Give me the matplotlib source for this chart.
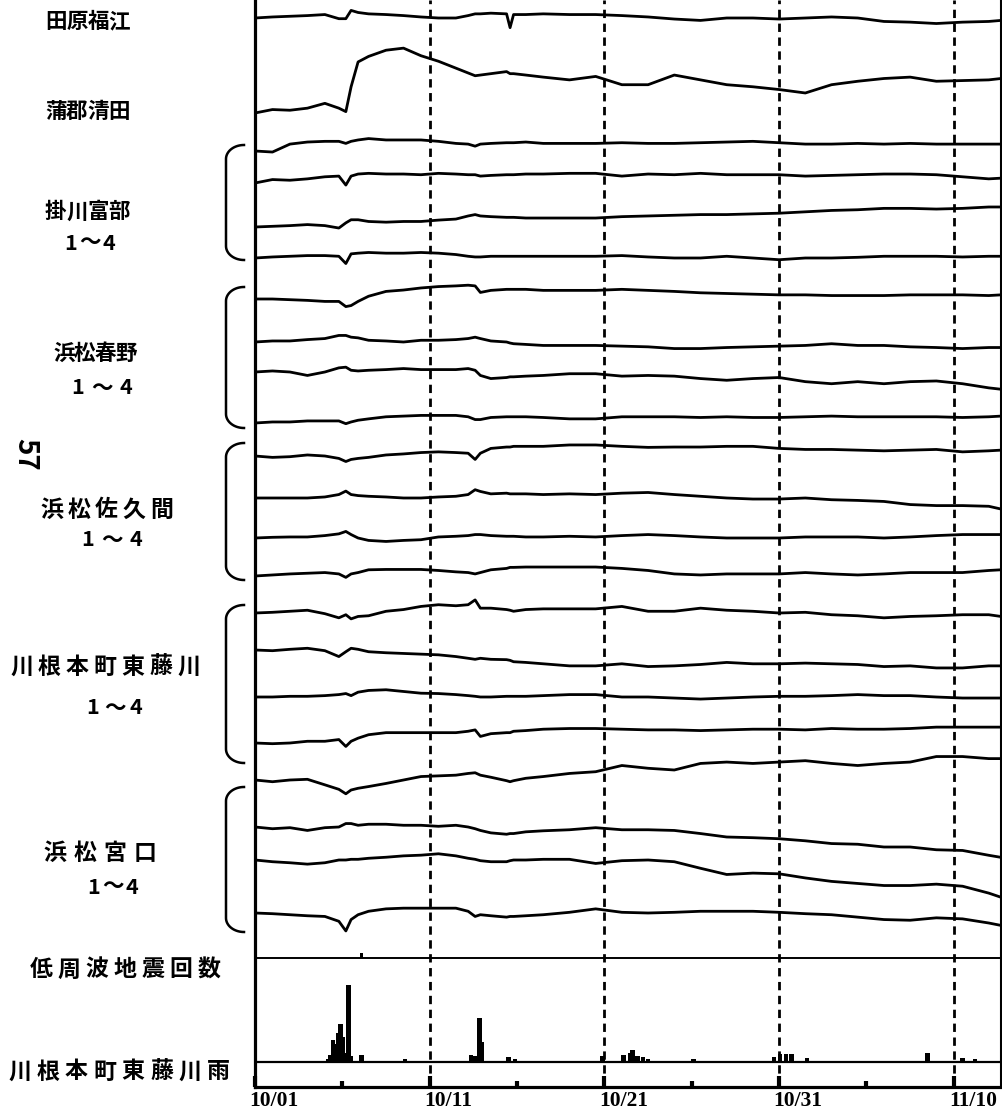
import numpy as np
import matplotlib
matplotlib.use('Agg')
import matplotlib.pyplot as plt
from matplotlib.transforms import ScaledTranslation

plt.rcParams['font.family'] = ['Noto Sans CJK JP', 'DejaVu Sans']

# sample days (0 = 10/01)
days = [0, 1, 2, 3, 4, 4.8, 5.2, 5.5, 5.9, 6.5, 7.5, 8.5, 9.5, 10.5, 11.5, 12.2, 12.6, 12.9, 13.5,
        14.4, 14.6, 14.8, 15.5, 16.5, 18, 19.5, 21, 22.5, 24, 25.5, 27, 28.5, 30, 31.5, 33, 34.5,
        36, 37.5, 39, 40.5, 42, 42.7]

# trace readings, relative change (arbitrary units, up = positive)
tahara = [0, 1.5, 2.5, 3.5, 5, -1, -1, 11, 8, 6, 5, 3.5, 1.5, 0, 0, 3.5, 6, 6, 7, 6, -14, 5, 5, 6, 5, 5,
          3.5, 1.5, -1.5, -3.5, 0, 0, -1.5, 0, 1.5, 0, -5, -6, -8, -6, -5, -3.5]
gamagori = [0, 5, 4, 7, 14, 7, 2, 38, 74, 82, 91, 94, 83, 75, 65, 58, 54, 55, 57, 60, 57, 57, 55, 52, 48,
            53, 41, 41, 55, 48, 41, 38, 34, 29, 41, 46, 50, 52, 46, 47, 48, 50]
kakegawa1 = [0, -1.5, 10, 13, 14, 14, 11, 14, 16, 18, 16, 16, 16, 14, 11, 10, 7, 10, 11, 12, 12, 12, 13, 11,
             11, 11, 12, 11, 11, 12, 13, 14, 12, 10, 10, 11, 10, 11, 10, 10, 10, 10]
kakegawa2 = [0, 5, 4, 6, 9, 10, -3, 10, 13, 14, 13, 13, 12, 14, 13, 12, 12, 10, 11, 12, 12, 12, 13, 13, 14,
             14, 10, 13, 12, 14, 12, 12, 12, 10, 11, 12, 13, 13, 12, 9, 6, 7]
kakegawa3 = [0, 1, 2, 3.5, 2, -1.5, 6, 10.5, 10.5, 8, 7, 8, 8, 10, 11.5, 16, 18, 16, 15, 14, 14, 14, 13, 13,
             13, 13, 15, 16, 17, 18, 18, 19, 20, 22, 24, 25, 27, 27, 26, 27, 29, 29]
kakegawa4 = [0, 1.5, 2.5, 3.5, 3.5, 2.5, -8, 6, 7, 8, 7, 7, 8, 7, 5, 2.5, 1.5, 1.5, 2.5, 2.5, 2.5, 2.5, 2.5,
             2.5, 2.5, 2.5, 3.5, 1.5, 0, 0, 2.5, 0, -2.5, 0, 0, 1, 2.5, 2.5, 2.5, 1.5, 2.5, 2.5]
haruno1 = [0, 0, -1, -2, -3.5, -3.5, -11, -9.5, -3.5, 4, 11, 13, 16, 18, 19, 20, 19, 9.5, 12.5, 14, 14, 14,
           14, 12.5, 12.5, 12.5, 14, 12.5, 11, 9, 8, 7, 6, 6, 5, 5, 5, 6, 6, 6, 5, 6]
haruno2 = [0, 1.5, 1.5, 3.5, 5, 9.5, 9.5, 7, 6, 2.5, 1.5, 0, 2.5, 2.5, 3.5, 5, 7, 5, 1.5, 0, -1.5, -2.5,
           -3.5, -5, -5, -5, -6, -7, -9.5, -9.5, -8, -7, -6, -5, -2.5, -5, -5, -7, -8, -9.5, -8, -8]
haruno3 = [0, 1.5, 0, -5, 0, 6, 7, 2.5, 1.5, 2.5, 3.5, 5, 3.5, 3.5, 3.5, 5, 2.5, -5, -9.5, -8, -7, -7, -6,
           -5, -2.5, -2.5, -6, -5, -6, -9.5, -12, -9.5, -8, -14, -17, -14, -17, -14, -13, -17, -23, -25]
haruno4 = [0, 1.5, 1.5, 3, 3, 3, -1, 1.5, 4, 6, 9, 10, 11, 11, 11, 9, 5, 5, 8, 9, 9, 9, 9, 8, 6, 6, 9, 9, 9,
           8, 9, 8, 8, 9, 10, 9, 9, 9, 9, 8, 9, 10]
sakuma1 = [0, -2, -1, 1.5, 0, -3.5, -8, -5, -3.5, -2, 1.5, 3, 5, 6, 5, 4, -5, 4, 11, 13, 13, 14, 14, 14, 16,
           16, 14, 12.5, 13, 13, 14, 14, 11, 9.5, 9.5, 8.5, 7.5, 8.5, 9.5, 6, 7.5, 8.5]
sakuma2 = [0, 0, 0, 0, 1.5, 5, 10, 5, 3.5, 2.5, 1.5, 0, 0, 1.5, 2.5, 5, 12, 9.5, 6, 7, 6, 6, 6, 5, 6, 5, 7,
           8, 5, 2.5, 0, -1.5, -1.5, 0, -2.5, -3.5, -5, -9.5, -11, -11, -12, -16]
sakuma3 = [0, 1, 1.5, 1.5, 3.5, 6, 9.5, 5, 0, -3.5, -5, -3.5, -2.5, 1.5, 2.5, 3.5, 5, 5, 3.5, 2.5, 2.5, 2.5,
           1.5, 1.5, 2.5, 1.5, 3.5, 5, 3.5, 1.5, 0, 0, 0, 1.5, 1.5, 1.5, 0, 1.5, 3.5, 5, 5, 5]
sakuma4 = [0, 1.5, 3, 4, 5, 3, -2, 3, 5, 9, 9.5, 9.5, 9.5, 8, 6, 5, 3, 5, 9, 11, 12.5, 12.5, 13, 13, 13, 13,
           11, 8, 3, 1.5, 3, 3, 3, 5, 3, 1.5, 3, 5, 5, 5, 8, 9]
kawane1 = [0, 1, 2.5, 4, -1, -7, -2.5, -8.5, -5, -4, 2.5, 5, 9.5, 12, 10.5, 12, 19, 7, 7, 5, 4, 2.5, 5, 6, 6,
           6, 9.5, 2.5, 2.5, 7, 4, 2.5, 0, 1, -2.5, -4, -7, -5, -4, -2.5, -2.5, -5]
kawane2 = [0, -1, 1, 2.5, -1, -9.5, -2.5, 2.5, 1, -2.5, -4, -5, -6, -7, -9.5, -12, -13.5, -12, -13.5, -14,
           -15, -17, -18, -20, -23, -23, -20, -24, -23, -21, -18, -20, -20, -19, -20, -21, -24, -23, -26,
           -26, -23, -23]
kawane3 = [0, 0, 1, 1, 2, 3.5, 5, 2, 7, 9.5, 10.5, 8, 5.5, 5, 3.5, 2, 1, 0, 0, 1, 1, 1, 1, 2, 3.5, 3.5, 0,
           0, -1.5, -3, -1.5, 0, 1, 1, 2, 3.5, 2, 2, 0, -1.5, -1.5, -1.5]
kawane4 = [0, -1, 0, 2.5, 2.5, 5, -5, 2.5, 7, 12, 15, 15, 15, 15, 15, 17, 19, 9.5, 13.5, 15, 15, 17, 18, 20,
           21, 21, 20, 19, 19, 18, 19, 20, 20, 19, 21, 20, 20, 21, 23, 23, 23, 23]
miyaguchi1 = [0, -2.5, 0, 1, -7, -13.5, -20, -14.5, -12, -9.5, -5, 0, 5, 6, 7, 9.5, 10.5, 7, 4, -1, -2.5,
              -1, 2.5, 5, 9.5, 12, 21, 17, 14.5, 24, 26, 24, 26, 28, 24, 21, 24, 26, 34, 34, 31, 31]
miyaguchi2 = [0, -2.5, -1, -5, -1, 0, 5, 5, 2.5, 4, 4, 2.5, 2.5, 1, 2.5, 0, -2.5, -5, -8.5, -10.5, -9.5,
              -9.5, -7, -5.5, -4, -1, -4, -4, -5, -9.5, -14.5, -15.5, -17, -20, -24, -25, -29, -29, -33,
              -34, -41, -44]
miyaguchi3 = [0, -2.5, -4, -6, -4, 0, 0, 1, 1, 2.5, 4, 6, 7, 9, 6, 2.5, 1, -1, -2.5, -2.5, -1, 0, 0, 1, 1,
              -5, -1, 0, -2.5, -12, -21, -19, -20, -26, -31, -34, -37, -37, -35, -38, -48, -54]
miyaguchi4 = [0, -1, -2.5, -4, -5, -12, -26, -9.5, -2.5, 2.5, 6, 7, 7, 7, 7, 2.5, -5, -2.5, -4, -6, -5, -5,
              -4, -2.5, 1, 6, 1, 0, 1, 2.5, 2.5, 2.5, 1, -1, -2.5, -6, -9.5, -10.5, -7, -8.5, -14.5, -18]

traces = [tahara, gamagori, kakegawa1, kakegawa2, kakegawa3, kakegawa4,
          haruno1, haruno2, haruno3, haruno4, sakuma1, sakuma2, sakuma3, sakuma4,
          kawane1, kawane2, kawane3, kawane4, miyaguchi1, miyaguchi2, miyaguchi3, miyaguchi4]

# rainfall (川根本町東藤川) and low-frequency earthquake counts
rain_days = [4.2, 4.3, 4.45, 4.6, 4.65, 4.75, 4.9, 4.95, 5.05, 5.2, 5.35, 5.5, 6.1, 8.6, 12.35, 12.6,
             12.85, 13.0, 14.5, 14.9, 19.9, 21.1, 21.5, 21.6, 21.9, 22.2, 22.5, 25.1, 29.7, 30.05, 30.4,
             30.7, 31.6, 38.5, 40.5, 41.2]
rain_vals = [2, 6, 21, 17, 14, 28, 37, 20, 24, 8, 76, 5, 6, 2, 6, 5, 43, 19, 4, 2, 5, 6, 8, 11, 5, 4, 2, 2,
             4, 7, 7, 7, 3, 8, 3, 2]
quake_days = [6.1]
quake_counts = [1]

tick_days = [0, 10, 20, 30, 40]
tick_labels = ['10/01', '10/11', '10/21', '10/31', '11/10']

# labels: text, left px, right px, centre y px, font size
side_labels = [
    ('田原福江', 45, 130, 22, 15.5),
    ('蒲郡清田', 45, 130, 112, 15.5),
    ('掛川富部', 45, 130, 212, 15.5),
    ('1～4', 60, 120, 243, 15.5),
    ('浜松春野', 53, 137, 353, 15.5),
    ('1～4', 67, 137, 388, 15.5),
    ('浜松佐久間', 40, 173, 510, 16.5),
    ('1～4', 77, 147, 540, 15.5),
    ('川根本町東藤川', 10, 200, 667, 16.5),
    ('1～4', 82, 147, 708, 15.5),
    ('浜松宮口', 43, 157, 853, 16.5),
    ('1～4', 83, 143, 887, 15.5),
    ('低周波地震回数', 30, 220, 970, 16.5),
    ('川根本町東藤川雨', 8, 230, 1072, 16.5),
]

# ---- layout (pixels of a 1003 x 1119 canvas) ----
W, H = 1003, 1119
baselines = [18, 113, 151, 183, 227, 258, 299, 342, 372, 423, 456, 498, 538, 576,
             613, 650, 697, 743, 780, 827, 860, 913]
gain = 0.69

fig = plt.figure(figsize=(W / 100, H / 100), dpi=100)
ax = fig.add_axes([255 / W, (H - 1087) / H, (1001 - 255) / W, 1087 / H])
ax.set_xlim(0, 42.7)
ax.set_ylim(1087, 0)

for base, tr in zip(baselines, traces):
    ax.plot(days, base - gain * np.array(tr), color='black', lw=2, solid_joinstyle='round')

# bottom panel
ax.axhline(958, color='black', lw=1.4)
ax.axhline(1062, color='black', lw=1.6)
ax.bar(rain_days, -np.array(rain_vals), bottom=1061, width=0.25, color='black')
ax.bar(quake_days, -5 * np.array(quake_counts), bottom=958, width=0.15, color='black')

for d in tick_days[1:]:
    ax.axvline(d, color='black', lw=2, linestyle=(0, (3, 2)))

for side in ['left', 'bottom']:
    ax.spines[side].set_linewidth(2.3)
ax.spines['right'].set_linewidth(1.5)
ax.spines['top'].set_visible(False)

ax.set_yticks([])
ax.set_xticks(tick_days)
ax.set_xticks([5, 15, 25, 35], minor=True)
ax.set_xticklabels(tick_labels, fontfamily='Liberation Serif', fontweight='bold', fontsize=15.5)
ax.tick_params(axis='x', which='major', direction='in', length=8, width=3, pad=3)
ax.tick_params(axis='x', which='minor', direction='in', length=4, width=3)
offset = ScaledTranslation(19 / 100, 0, fig.dpi_scale_trans)
for lab in ax.get_xticklabels():
    lab.set_transform(lab.get_transform() + offset)

# overlay for labels and brackets
ov = fig.add_axes([0, 0, 1, 1])
ov.set_xlim(0, W)
ov.set_ylim(H, 0)
ov.axis('off')

for txt, x0, x1, y, size in side_labels:
    w = size * 100 / 72
    xs = np.linspace(x0 + w / 2, x1 - w / 2, len(txt))
    for ch, x in zip(txt, xs):
        ov.text(x, y, ch, ha='center', va='center', fontsize=size, fontweight='bold')

ov.text(25, 454, '57', ha='center', va='center', fontsize=20, fontweight='bold', rotation=-90)

brackets = [(145, 260), (287, 428), (443, 580), (605, 763), (787, 932)]
t = np.linspace(0, np.pi / 2, 20)
for top, bot in brackets:
    xs = np.concatenate([244 - 18 * np.sin(t), 244 - 18 * np.cos(t)])
    ys = np.concatenate([top + 14 - 14 * np.cos(t), bot - 14 + 14 * np.sin(t)])
    ov.plot(xs, ys, color='black', lw=1.8)

fig.savefig('out.png', dpi=100)
